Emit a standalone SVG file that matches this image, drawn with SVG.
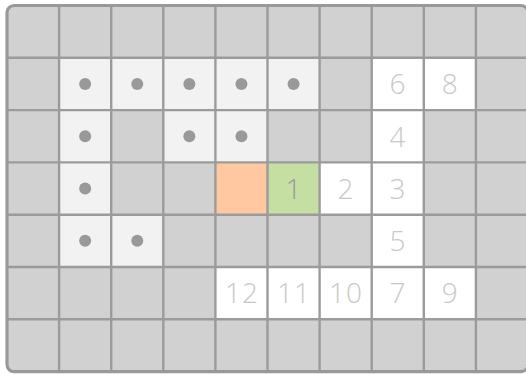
<svg xmlns="http://www.w3.org/2000/svg" width="526" height="374" viewBox="0 0 526 374">
<style>
.bg{fill:#d1d1d1}
.lt{fill:#f2f2f2}
.wh{fill:#ffffff}
.dot{fill:#999999}
.num{font-family:"Open Sans","Noto Sans","Liberation Sans",sans-serif;font-weight:300;font-size:28px;letter-spacing:1px;fill:#c8c8c8;text-anchor:middle}
.g line{stroke:#9b9b9b;stroke-width:2.4}
</style>
<rect x="0" y="0" width="526" height="374" fill="#ffffff"/>
<rect class="bg" x="7" y="5.5" width="521" height="366.1" rx="7"/>
<g id="cells">
<g id="dots">
<rect class="lt" x="59.1" y="57.8" width="260.5" height="52.3"/>
<rect class="lt" x="59.1" y="110.1" width="52.1" height="156.9"/>
<rect class="lt" x="163.3" y="110.1" width="104.2" height="52.3"/>
<rect class="lt" x="111.2" y="214.7" width="52.1" height="52.3"/>
<circle class="dot" cx="85.15" cy="83.95" r="6"/>
<circle class="dot" cx="137.25" cy="83.95" r="6"/>
<circle class="dot" cx="189.35" cy="83.95" r="6"/>
<circle class="dot" cx="241.45" cy="83.95" r="6"/>
<circle class="dot" cx="293.55" cy="83.95" r="6"/>
<circle class="dot" cx="85.15" cy="136.25" r="6"/>
<circle class="dot" cx="189.35" cy="136.25" r="6"/>
<circle class="dot" cx="241.45" cy="136.25" r="6"/>
<circle class="dot" cx="85.15" cy="188.55" r="6"/>
<circle class="dot" cx="85.15" cy="240.85" r="6"/>
<circle class="dot" cx="137.25" cy="240.85" r="6"/>
</g>
<g id="start"><rect x="215.4" y="162.4" width="52.1" height="52.3" fill="#ffc8a0"/></g>
<g id="n1"><rect x="267.5" y="162.4" width="52.1" height="52.3" fill="#c5dfa2"/><text class="num" x="294" y="198.8" style="fill:#999999">1</text></g>
<g id="n2"><rect class="wh" x="319.6" y="162.4" width="52.1" height="52.3"/><text class="num" x="346" y="198.8">2</text></g>
<g id="n3"><rect class="wh" x="371.7" y="162.4" width="52.1" height="52.3"/><text class="num" x="398" y="198.8">3</text></g>
<g id="n4"><rect class="wh" x="371.7" y="110.1" width="52.1" height="52.3"/><text class="num" x="398" y="146.5">4</text></g>
<g id="n5"><rect class="wh" x="371.7" y="214.7" width="52.1" height="52.3"/><text class="num" x="398" y="251.1">5</text></g>
<g id="n6"><rect class="wh" x="371.7" y="57.8" width="52.1" height="52.3"/><text class="num" x="398" y="94.2">6</text></g>
<g id="n7"><rect class="wh" x="371.7" y="267" width="52.1" height="52.3"/><text class="num" x="398" y="303.4">7</text></g>
<g id="n8"><rect class="wh" x="423.8" y="57.8" width="52.1" height="52.3"/><text class="num" x="450.2" y="94.2">8</text></g>
<g id="n9"><rect class="wh" x="423.8" y="267" width="52.1" height="52.3"/><text class="num" x="450.2" y="303.4">9</text></g>
<g id="n10"><rect class="wh" x="319.6" y="267" width="52.1" height="52.3"/><text class="num" x="346" y="303.4">10</text></g>
<g id="n11"><rect class="wh" x="267.5" y="267" width="52.1" height="52.3"/><text class="num" x="294" y="303.4">11</text></g>
<g id="n12"><rect class="wh" x="215.4" y="267" width="52.1" height="52.3"/><text class="num" x="242" y="303.4">12</text></g>
</g>
<g id="grid" class="g">
<line x1="59.1" y1="5.5" x2="59.1" y2="371.6"/>
<line x1="111.2" y1="5.5" x2="111.2" y2="371.6"/>
<line x1="163.3" y1="5.5" x2="163.3" y2="371.6"/>
<line x1="215.4" y1="5.5" x2="215.4" y2="371.6"/>
<line x1="267.5" y1="5.5" x2="267.5" y2="371.6"/>
<line x1="319.6" y1="5.5" x2="319.6" y2="371.6"/>
<line x1="371.7" y1="5.5" x2="371.7" y2="371.6"/>
<line x1="423.8" y1="5.5" x2="423.8" y2="371.6"/>
<line x1="475.9" y1="5.5" x2="475.9" y2="371.6"/>
<line x1="7" y1="57.8" x2="528" y2="57.8"/>
<line x1="7" y1="110.1" x2="528" y2="110.1"/>
<line x1="7" y1="162.4" x2="528" y2="162.4"/>
<line x1="7" y1="214.7" x2="528" y2="214.7"/>
<line x1="7" y1="267" x2="528" y2="267"/>
<line x1="7" y1="319.3" x2="528" y2="319.3"/>
</g>
<rect x="7" y="5.5" width="521" height="366.1" rx="7" fill="none" stroke="#999999" stroke-width="3.2"/>
</svg>
